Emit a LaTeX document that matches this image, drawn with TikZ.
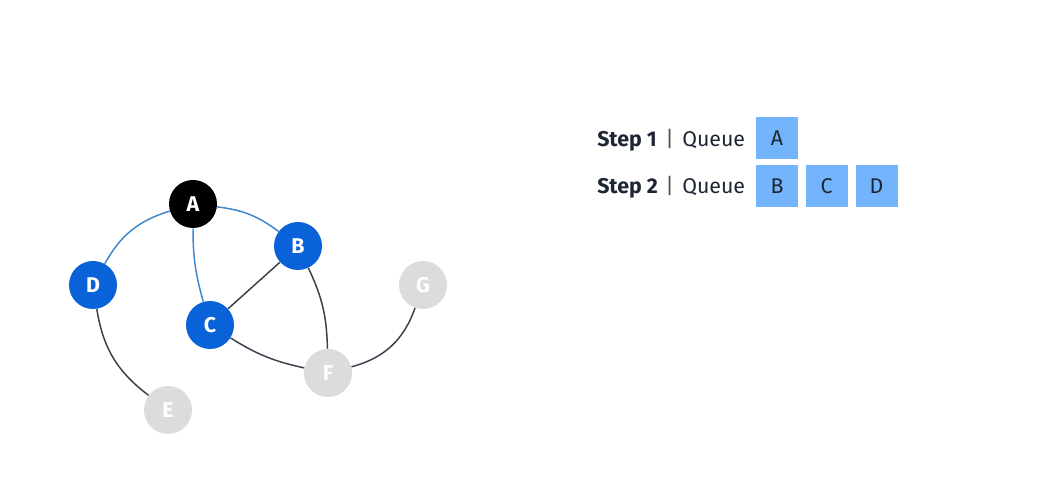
\documentclass[tikz,border=0pt]{standalone}
\usepackage{fontspec}
\setmainfont{Fira Sans}
\definecolor{visitblue}{HTML}{0A62D8}
\definecolor{edgeblue}{HTML}{3D86CC}
\definecolor{edgedark}{HTML}{3A3F4A}
\definecolor{nodegray}{HTML}{DCDCDC}
\definecolor{queueblue}{HTML}{74B4FC}
\definecolor{textdark}{HTML}{1F2633}
\tikzset{
  vertex/.style={circle, minimum size=36pt, inner sep=0pt, text=white,
    font=\fontsize{16}{16}\selectfont\bfseries},
  current/.style={vertex, fill=black},
  visited/.style={vertex, fill=visitblue},
  unseen/.style={vertex, fill=nodegray},
  treeedge/.style={line width=1.1pt, draw=edgeblue},
  plainedge/.style={line width=1.1pt, draw=edgedark},
  queuecell/.style={fill=queueblue, minimum size=31.5pt, inner sep=0pt,
    text=textdark, font=\fontsize{16}{16}\selectfont},
  steptext/.style={anchor=base west, inner sep=0pt, text=textdark,
    font=\fontsize{16}{16}\selectfont}
}
\begin{document}
\begin{tikzpicture}[x=0.75pt, y=0.75pt]
\useasboundingbox (0,0) rectangle (1063,478);

% Graph vertices
\node [current] (A) at (193,274) {A};
\node [visited] (B) at (298,232) {B};
\node [visited] (C) at (210,153) {C};
\node [visited] (D) at (93,193) {D};
\node [unseen] (E) at (168,68) {E};
\node [unseen] (F) at (328,105) {F};
\node [unseen] (G) at (423,193) {G};

% Edges already traversed from A
\draw [treeedge] (A) to [bend right=22] (D);
\draw [treeedge] (A) to [bend left=15] (B);
\draw [treeedge] (A) to [bend right=8] (C);

% Remaining edges
\draw [plainedge] (C) -- (B);
\draw [plainedge] (B) to [bend left=12] (F);
\draw [plainedge] (C) to [bend right=10] (F);
\draw [plainedge] (F) to [bend right=28] (G);
\draw [plainedge] (D) to [bend right=22] (E);

% Step 1 row
\node [steptext] (step1) at (597,331.5) {\textbf{Step 1}};
\node [steptext, text=textdark!80] (bar1) at (665,331.5) {|};
\node [steptext] (queue1) at (682,331.5) {Queue};
\node [queuecell] (qA) at (777,340) {A};

% Step 2 row
\node [steptext] (step2) at (597,284.5) {\textbf{Step 2}};
\node [steptext, text=textdark!80] (bar2) at (665,284.5) {|};
\node [steptext] (queue2) at (682,284.5) {Queue};
\node [queuecell] (qB) at (777,292) {B};
\node [queuecell] (qC) at (826.5,292) {C};
\node [queuecell] (qD) at (876.5,292) {D};
\end{tikzpicture}
\end{document}
